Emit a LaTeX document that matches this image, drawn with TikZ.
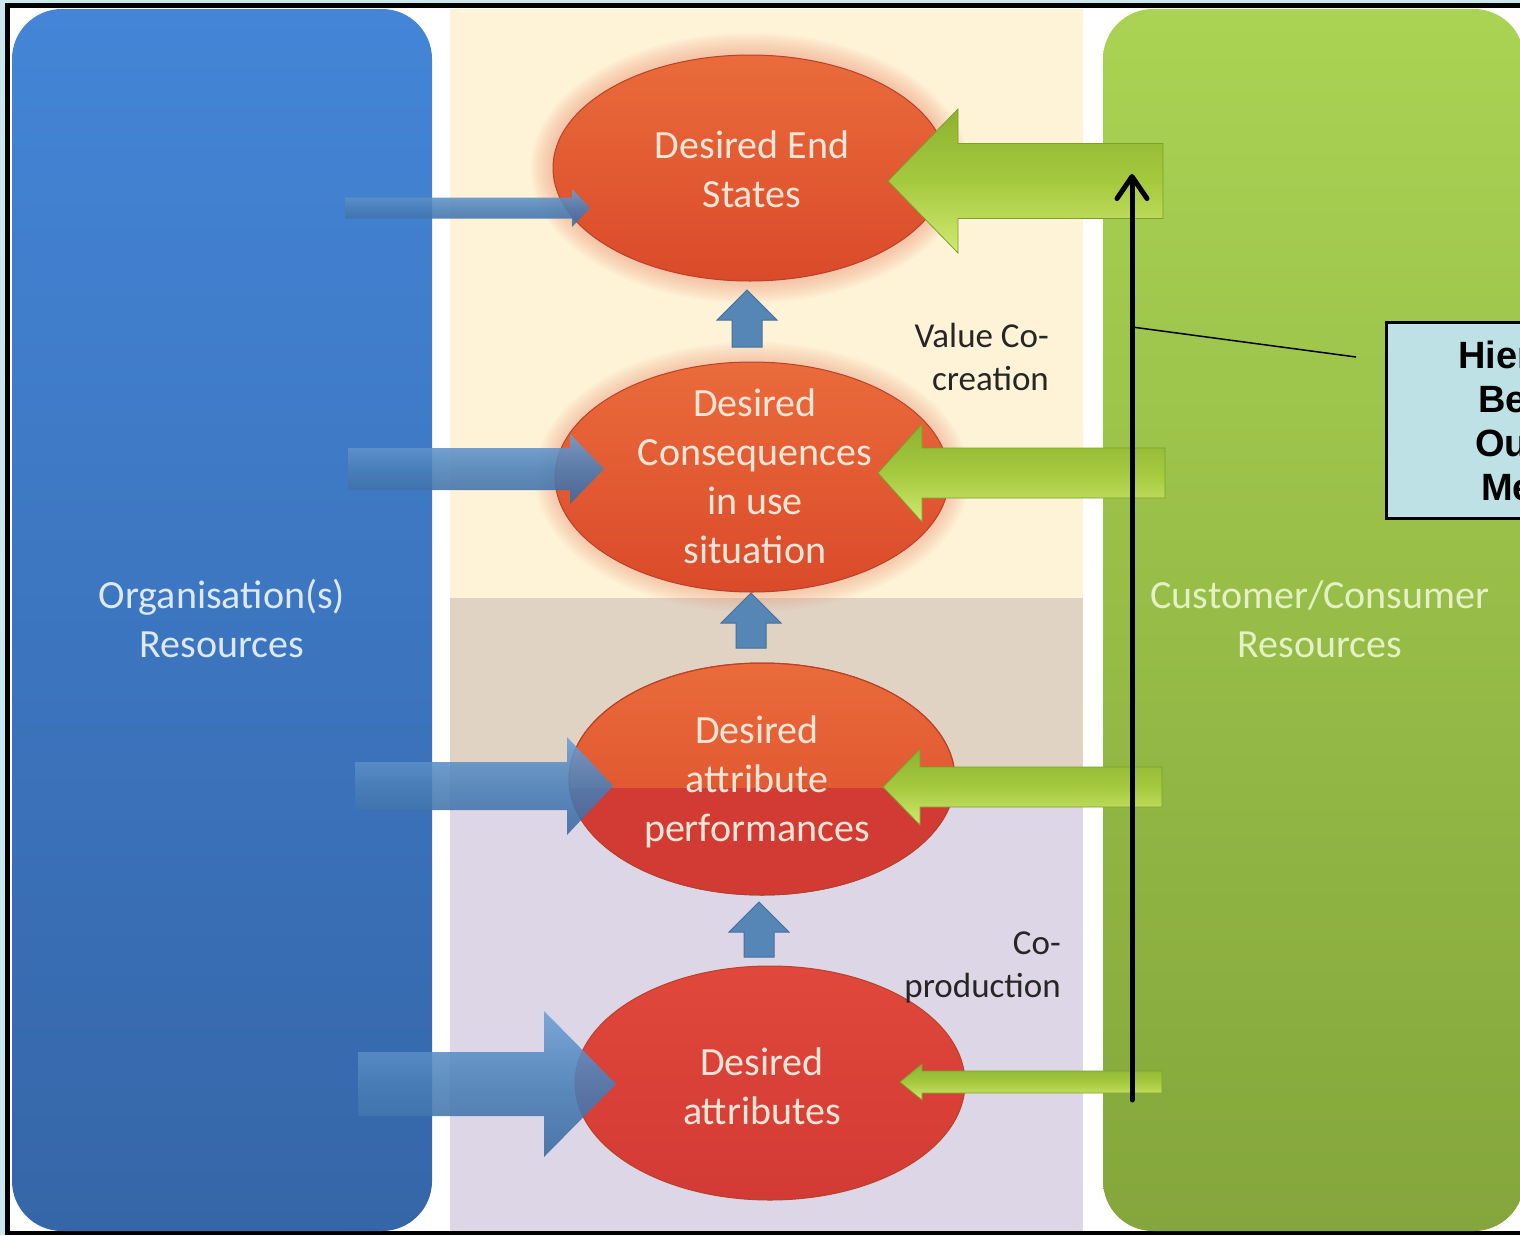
\documentclass[tikz,border=0pt]{standalone}
\usepackage{fontspec}
\setmainfont{Carlito}
\newfontfamily\boxfont{Liberation Sans}
\usetikzlibrary{shapes.geometric,arrows.meta}

\definecolor{backdrop}{HTML}{CBE7EE}
\definecolor{blueTop}{HTML}{4485D7}
\definecolor{blueBot}{HTML}{3566A8}
\definecolor{greenTop}{HTML}{AAD353}
\definecolor{greenBot}{HTML}{84A63C}
\definecolor{creamband}{HTML}{FEF3D7}
\definecolor{tanband}{HTML}{E0D3C3}
\definecolor{lilacband}{HTML}{DCD6E6}
\definecolor{bubbleTop}{HTML}{EA6B3B}
\definecolor{bubbleBot}{HTML}{DA4A2A}
\definecolor{crimsonTop}{HTML}{E0483C}
\definecolor{crimsonBot}{HTML}{D23A34}
\definecolor{bubbleEdge}{HTML}{B94128}
\definecolor{bubbleText}{HTML}{FDE6D8}
\definecolor{glowcol}{HTML}{EE8A6A}
\definecolor{orgArTop}{HTML}{6E9FD6}
\definecolor{orgArMid}{HTML}{4A80B8}
\definecolor{orgArBot}{HTML}{3A68A0}
\definecolor{cusArTop}{HTML}{8CB232}
\definecolor{cusArMid}{HTML}{A5C93E}
\definecolor{cusArBot}{HTML}{D0EA72}
\definecolor{cusArEdge}{HTML}{7C9E2E}
\definecolor{upAr}{HTML}{5686B6}
\definecolor{upArEdge}{HTML}{44709E}
\definecolor{orgText}{HTML}{DCE8F6}
\definecolor{cusText}{HTML}{E4F0C6}
\definecolor{noteText}{HTML}{262626}
\definecolor{infoFill}{HTML}{BDE1E5}

\tikzset{
  panel/.style={rounded corners=50pt},
  bubble/.style={ellipse, inner sep=0pt, draw=bubbleEdge, line width=1pt},
  bubbletext/.style={text=bubbleText, align=center, inner sep=0pt,
    font=\fontsize{40}{49}\selectfont},
  paneltext/.style={align=center, inner sep=0pt, font=\fontsize{40}{49}\selectfont},
  notetext/.style={align=right, inner sep=0pt, text=noteText,
    font=\fontsize{35}{43}\selectfont},
  orgarrow/.style={top color=orgArTop, bottom color=orgArBot, middle color=orgArMid,
    opacity=0.88},
  cusarrow/.style={top color=cusArTop, bottom color=cusArBot, middle color=cusArMid,
    draw=cusArEdge, line width=0.8pt},
  uparrow/.style={fill=upAr, draw=upArEdge, line width=1pt},
  hierline/.style={line width=5pt, line cap=round,
    -{Straight Barb[length=22pt, width=30pt, round]}},
  leader/.style={line width=1.5pt},
  infobox/.style={draw=black, line width=2.5pt, fill=infoFill, inner sep=0pt},
  boxtext/.style={inner sep=0pt, font=\boxfont\bfseries\fontsize{38}{44}\selectfont}
}

% horizontal block arrow: style, tail x, tip x, centre y, shaft half, head half, head base x
\newcommand\hblock[7]{%
  \path[#1] (#2,#4-#5) -- (#7,#4-#5) -- (#7,#4-#6) -- (#3,#4) -- (#7,#4+#6)
    -- (#7,#4+#5) -- (#2,#4+#5) -- cycle;}
% upward block arrow: style, centre x, tail y, tip y, shaft half, head half, head base y
\newcommand\vblock[7]{%
  \path[#1] (#2-#5,#3) -- (#2-#5,#7) -- (#2-#6,#7) -- (#2,#4) -- (#2+#6,#7)
    -- (#2+#5,#7) -- (#2+#5,#3) -- cycle;}

\begin{document}
\begin{tikzpicture}[x=1pt,y=-1pt]
\useasboundingbox (0,0) rectangle (1520,1235);
\clip (0,0) rectangle (1520,1235);

% frame
\fill[backdrop] (0,0) rectangle (1520,1235);
\draw[line width=4.5pt, fill=white] (7.5,5.5) rectangle (1580,1233);

% resource panels
\path[panel, top color=blueTop, bottom color=blueBot] (12,9) rectangle (432,1231);
\path[panel, top color=greenTop, bottom color=greenBot] (1103,9) rectangle (1524,1231);

% central bands
\fill[creamband] (450,9) rectangle (1083,598);
\fill[tanband] (450,598) rectangle (1083,789);
\fill[lilacband] (450,789) rectangle (1083,1231);

% bubble centres
\coordinate (c1) at (750,168);
\coordinate (c2) at (752,477);
\coordinate (c3) at (762,779);
\coordinate (c4) at (770,1083);

% soft halo round the two upper bubbles
\foreach \k in {1,...,10} {
  \fill[glowcol, opacity=0.05] (c1) ellipse [x radius={197pt+2.2pt*\k}, y radius={113pt+2.2pt*\k}];
  \fill[glowcol, opacity=0.045] (c2) ellipse [x radius={197pt+2pt*\k}, y radius={115pt+2pt*\k}];
}

% bubbles
\node[bubble, minimum width=394pt, minimum height=226pt,
  top color=bubbleTop, bottom color=bubbleBot] (e1) at (c1) {};
\node[bubble, minimum width=394pt, minimum height=230pt,
  top color=bubbleTop, bottom color=bubbleBot] (e2) at (c2) {};
\node[bubble, minimum width=386pt, minimum height=232pt,
  top color=bubbleTop, bottom color=bubbleBot] (e3) at (c3) {};
\begin{scope}
  \clip (c3) ellipse [x radius=193pt, y radius=116pt];
  \fill[crimsonBot] (500,788) rectangle (1000,900);
\end{scope}
\draw[bubbleEdge, line width=1pt] (c3) ellipse [x radius=193pt, y radius=116pt];
\node[bubble, minimum width=390pt, minimum height=234pt,
  top color=crimsonTop, bottom color=crimsonBot] (e4) at (c4) {};

% organisation inputs
\hblock{orgarrow}{345}{590}{208}{10.5}{19}{572}
\hblock{orgarrow}{348}{604}{469}{21}{35}{570}
\hblock{orgarrow}{355}{613}{786}{24}{49}{567}
\hblock{orgarrow}{358}{616}{1084}{32}{73}{544}

% customer inputs
\hblock{cusarrow}{1163}{888}{181}{37.5}{72}{958}
\hblock{cusarrow}{1165}{878}{473}{25}{49}{922}
\hblock{cusarrow}{1162}{883}{787}{20}{38}{920}
\hblock{cusarrow}{1162}{900}{1082}{11}{18}{922}

% upward links between the levels
\vblock{uparrow}{747}{347}{290}{15}{30}{320}
\vblock{uparrow}{751}{648}{593}{15}{30}{623}
\vblock{uparrow}{759}{957}{902}{15}{30}{932}

% bubble labels
\node[bubbletext] (t1) at (752,169) {Desired End\\States};
\node[bubbletext] (t2) at (755,476) {Desired\\Consequences\\in use\\situation};
\node[bubbletext] (t3) at (757,782) {Desired\\attribute\\performances};
\node[bubbletext] (t4) at (762,1086) {Desired\\attributes};

% panel labels
\node[paneltext, text=orgText] (org) at (222,619) {Organisation(s)\\Resources};
\node[paneltext, text=cusText] (cus) at (1320,619) {Customer/Consumer\\Resources};

% side notes
\node[notetext, anchor=east] (vcc) at (1049,357) {Value Co-\\creation};
\node[notetext, anchor=east] (cop) at (1061,967) {Co-\\production};

% hierarchy arrow and its call-out
\coordinate (vbase) at (1132,1100);
\coordinate (vtop) at (1132,174);
\draw[hierline] (vbase) -- (vtop);
\coordinate (lead) at (1132,327);
\coordinate (leadend) at (1356,357);
\draw[leader] (lead) -- (leadend);

\node[infobox, anchor=north west, minimum width=260pt, minimum height=196pt] (hbox) at (1385,321) {};
\node[boxtext, anchor=base west] (f1) at (1458,368) {Hier};
\node[boxtext, anchor=base west] (f2) at (1478,412) {Be};
\node[boxtext, anchor=base west] (f3) at (1475,456) {Ou};
\node[boxtext, anchor=base west] (f4) at (1481,500) {Me};
\end{tikzpicture}
\end{document}
